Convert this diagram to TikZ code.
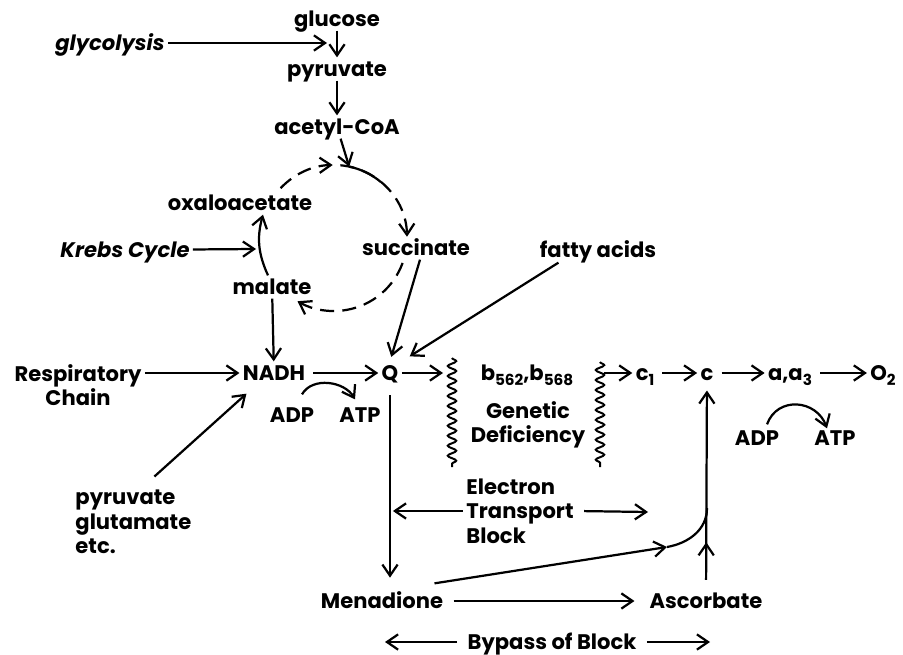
\documentclass[tikz,border=0pt]{standalone}
\usepackage{fontspec}
\setmainfont{Poppins}
\usetikzlibrary{arrows.meta,calc,decorations.pathmorphing,decorations.markings}
\newcommand\lowsub[1]{\raisebox{-0.45ex}{\fontsize{13}{13}\selectfont #1}}

\begin{document}
\begin{tikzpicture}
	[x=0.03cm,y=0.03cm,->,>={Straight Barb[length=9.5pt,width=13pt]},line width=1.9pt,
	every node/.style={inner sep=2pt,font=\fontsize{18}{21}\selectfont\bfseries},
	chem/.style={text height=13pt,text depth=1pt},
	ital/.style={font=\fontsize{18}{21}\selectfont\bfseries\itshape},
	wave/.style={-,line width=1.7pt,decorate,decoration={snake,segment length=8.5pt,amplitude=3.6pt}},
	cyc/.style={dash pattern=on 12pt off 7pt}]
	\useasboundingbox (0,0) rectangle (903,-655);
	% glycolysis
	\node[chem] (glu) at (337,-19) {glucose};
	\node[chem] (pyr) at (337,-69) {pyruvate};
	\node[chem] (aco) at (337,-127) {acetyl-CoA};
	\node[ital,chem] (gly) at (110,-43) {glycolysis};
	\coordinate (glyj) at (327,-43);
	\draw (glu) -- (pyr);
	\draw (pyr) -- (aco);
	\draw (gly) -- (glyj);
	% Krebs cycle
	\coordinate (ctr) at (334,-238);
	\draw[cyc] ($(ctr)+(137:73)$) arc[start angle=137,end angle=91,radius=73];
	\draw[cyc] ($(ctr)+(85:73)$) arc[start angle=85,end angle=1,radius=73];
	\draw[cyc] ($(ctr)+(-20:73)$) arc[start angle=-20,end angle=-120,radius=73];
	\coordinate (cj) at ($(ctr)+(78:73)$);
	\draw (aco) -- (cj);
	\draw[-] (cj) arc[start angle=78,end angle=50,radius=73];
	\node[chem] (oxa) at (240,-203) {oxaloacetate};
	\node[chem] (suc) at (416,-248) {succinate};
	\node[chem] (mal) at (272,-287) {malate};
	\node[ital,chem] (kre) at (125,-250) {Krebs Cycle};
	\coordinate (krej) at (256,-249);
	\draw (kre) -- (krej);
	\draw ($(mal.north)+(-4,0)$) to[bend left=20] ($(oxa.south)+(23,0)$);
	% respiratory chain
	\node[chem] (nadh) at (274,-373) {NADH};
	\node[chem] (q) at (390,-373) {Q};
	\node[chem] (fat) at (598,-250) {fatty acids};
	\node[align=center] (rc) at (78,-385) {Respiratory\\Chain};
	\node[align=left,anchor=west] (src) at (72,-522) {pyruvate\\glutamate\\etc.};
	\draw (mal) -- (nadh);
	\draw[shorten >=4pt] ($(suc.south)+(4,0)$) -- (q.north);
	\draw[shorten >=8pt] ($(fat.south west)+(22,-1)$) -- (q.north east);
	\draw (rc.east |- nadh) -- (nadh);
	\draw ($(src.north)+(21,10)$) -- ($(nadh.south west)+(7,-9)$);
	\node[chem] (adpa) at (292,-415) {ADP};
	\node[chem] (atpa) at (360,-415) {ATP};
	\draw ($(adpa.north)+(10,9)$) to[out=60,in=120] ($(atpa.north)+(-5,4)$);
	% cytochromes
	\draw[wave] (452,-358) -- (452,-467);
	\draw[wave] (600,-362) -- (600,-467);
	\coordinate (qj) at (443,-373);
	\coordinate (wj) at (604,-373);
	\node[chem] (cytb) at (527,-373) {b\lowsub{562},b\lowsub{568}};
	\node[align=center] (gen) at (528,-425) {Genetic\\Deficiency};
	\node[chem] (c1) at (645,-373) {c\lowsub{1}};
	\node[chem] (c) at (707,-373) {c};
	\node[chem] (aa) at (790,-373) {a,a\lowsub{3}};
	\node[chem] (o2) at (883,-373) {O\lowsub{2}};
	\draw (q) -- (qj);
	\draw (wj) -- (c1);
	\path
	\foreach \startNode/\endNode in {nadh/q,c1/c,c/aa,aa/o2}
	{
		(\startNode) edge[->,shorten <=4pt] (\endNode)
	};
	\node[chem] (adpb) at (757,-438) {ADP};
	\node[chem] (atpb) at (835,-438) {ATP};
	\draw ($(adpb.north)+(10,2)$) to[out=70,in=110,looseness=1.3] ($(atpb.north)+(-8,-2)$);
	% block and bypass
	\node[align=left] (etb) at (520,-511) {Electron\\Transport\\Block};
	\coordinate (etbj) at (648,-512);
	\draw[shorten >=2.5pt] (etb.west) -- (etb.west -| q);
	\draw[shorten <=6pt] (etb.east) -- (etbj);
	\node[chem] (men) at (382,-601) {Menadione};
	\node[chem] (asc) at (706,-601) {Ascorbate};
	\coordinate (bj) at (707,-508);
	\coordinate (mj) at (667,-547);
	\draw[shorten <=9pt,shorten >=10pt] (q) -- (q |- men.north);
	\draw[shorten <=6pt,shorten >=10pt] (men) -- (asc);
	\draw[shorten <=8pt,shorten >=5pt,postaction={decorate},
		decoration={markings,mark=at position 0.23 with {\arrow{>}}}] (asc) -- (c);
	\draw ($(men.north east)+(-12,6)$) -- (mj);
	\draw[-] (mj) to[out=10,in=-90] (bj);
	\node[chem] (byp) at (552,-642) {Bypass of Block};
	\coordinate (bypl) at (385,-642);
	\coordinate (bypr) at (710,-642);
	\draw[shorten <=6pt] (byp) -- (bypl);
	\draw[shorten <=6pt] (byp) -- (bypr);
\end{tikzpicture}
\end{document}
